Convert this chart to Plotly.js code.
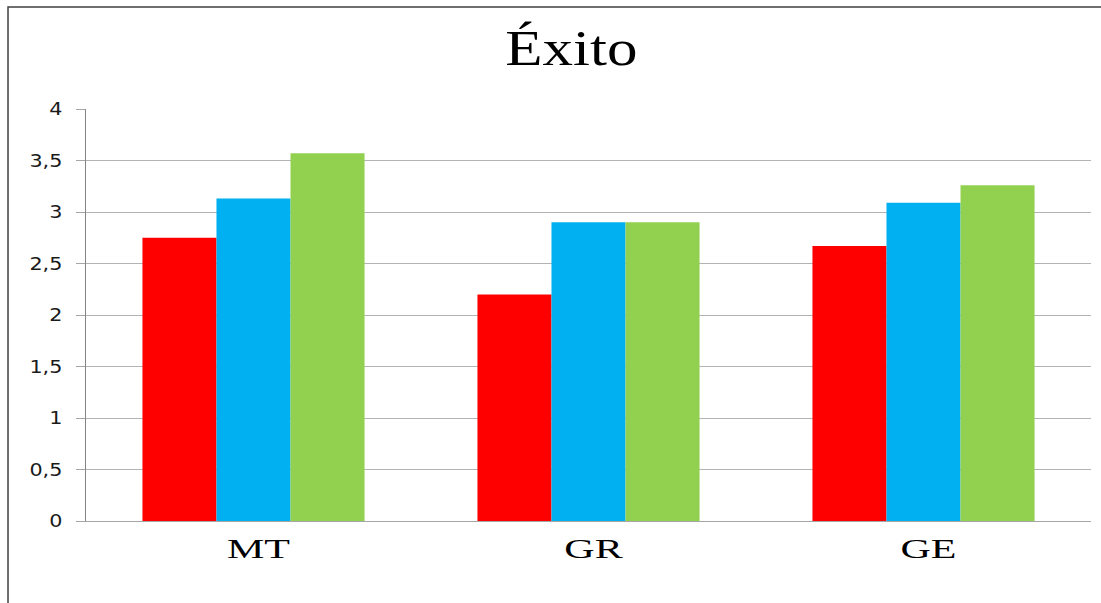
<!DOCTYPE html>
<html>
<head>
<meta charset="utf-8">
<script src="https://cdn.plot.ly/plotly-3.0.1.min.js"></script>
<style>
  html, body { margin: 0; padding: 0; background: #fff; }
  #chart { width: 1101px; height: 603px; }
</style>
</head>
<body>
<div id="chart"></div>
<script>
// Categories and the three series of mean scores
const categories = ['MT', 'GR', 'GE'];
const serie1 = [2.75, 2.2, 2.67];
const serie2 = [3.13, 2.9, 3.09];
const serie3 = [3.57, 2.9, 3.26];
const seriesNames = ['Serie 1', 'Serie 2', 'Serie 3'];
const seriesColors = ['#FF0000', '#00B0F0', '#92D050'];
const yTicks = [0, 0.5, 1, 1.5, 2, 2.5, 3, 3.5, 4];

const values = [serie1, serie2, serie3];
const traces = values.map((v, i) => ({
  type: 'bar',
  x: categories,
  y: v,
  name: seriesNames[i],
  marker: { color: seriesColors[i], line: { width: 0 } },
  hoverinfo: 'x+y'
}));

const serif = 'Liberation Serif, Times New Roman, serif';

const layout = {
  width: 1101,
  height: 603,
  margin: { l: 86, r: 10, t: 109, b: 82, pad: 0 },
  paper_bgcolor: '#ffffff',
  plot_bgcolor: '#ffffff',
  separators: ',.',
  showlegend: false,
  barmode: 'group',
  bargap: 0.337,
  bargroupgap: 0,
  title: {
    text: 'Éxito',
    font: { family: serif, size: 50, color: '#000' },
    x: 0.519, xref: 'container', xanchor: 'center',
    y: 0.922, yref: 'container', yanchor: 'middle'
  },
  xaxis: {
    type: 'category',
    tickfont: { family: serif, size: 28, color: '#000' },
    showline: true,
    linecolor: '#a6a6a6',
    linewidth: 1,
    ticks: '',
    ticklabelstandoff: 2,
    ticklabelshift: 5,
    showgrid: false,
    zeroline: false
  },
  yaxis: {
    range: [0, 4],
    tickvals: yTicks,
    tickformat: '.1~f',
    tickfont: { family: 'DejaVu Sans, Verdana, sans-serif', size: 18, color: '#1a1a1a' },
    showline: true,
    linecolor: '#868686',
    linewidth: 1,
    ticks: 'outside',
    ticklen: 9,
    tickcolor: '#a6a6a6',
    tickwidth: 1,
    ticklabelstandoff: 10,
    showgrid: true,
    gridcolor: '#b3b3b3',
    gridwidth: 1,
    zeroline: false
  },
  shapes: [
    // chart frame: left and top edges
    {
      type: 'path', xref: 'paper', yref: 'paper',
      path: 'M -0.0776,-0.25 L -0.0776,1.2476 L 1.02,1.2476',
      line: { color: '#404040', width: 1.5 }
    }
  ]
};

// widen glyphs horizontally (the chart's text is set in a stretched face)
function stretchText(gd, selector, factor) {
  gd.querySelectorAll(selector).forEach(t => {
    const len = t.getComputedTextLength();
    if (len > 0) {
      t.setAttribute('textLength', (len * factor).toFixed(2));
      t.setAttribute('lengthAdjust', 'spacingAndGlyphs');
    }
  });
}

Plotly.newPlot('chart', traces, layout, { displayModeBar: false, staticPlot: true })
  .then(gd => {
    stretchText(gd, '.gtitle', 1.22);
    stretchText(gd, '.xtick text', 1.5);
    stretchText(gd, '.ytick text', 1.15);
  });
</script>
</body>
</html>
